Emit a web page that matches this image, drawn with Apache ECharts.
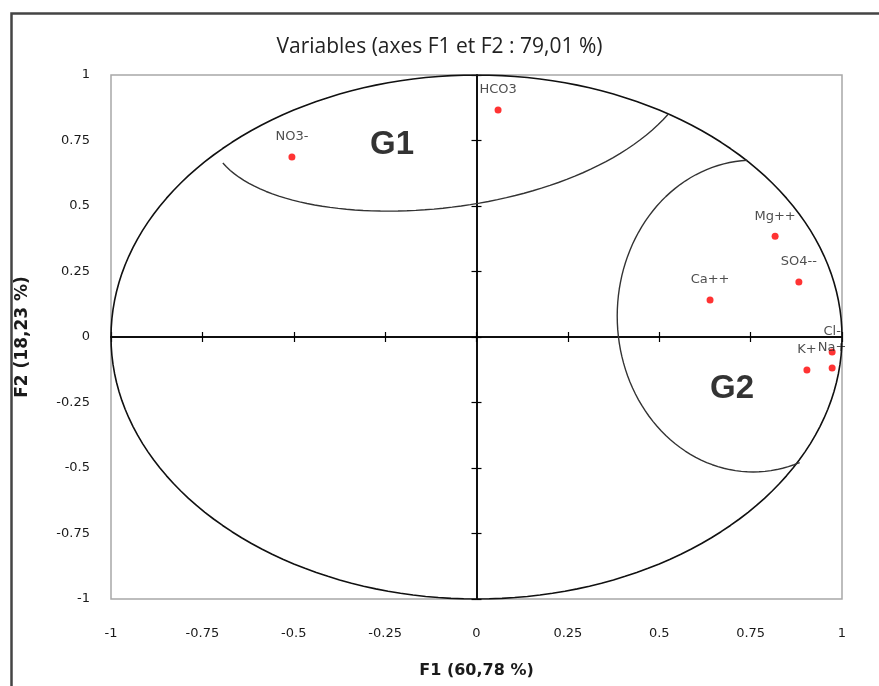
<!DOCTYPE html>
<html>
<head>
<meta charset="utf-8">
<title>Variables (axes F1 et F2)</title>
<script src="https://cdn.jsdelivr.net/npm/echarts@6/dist/echarts.min.js"></script>
<style>
html,body{margin:0;padding:0;background:#fff;}
#main{width:879px;height:686px;}
</style>
</head>
<body>
<div id="main"></div>
<script>
//variables (cercle des correlations)
var varNames = ['NO3-','HCO3','Mg++','SO4--','Ca++','Cl-','Na+','K+'];
var f1Values = [-0.505, 0.059, 0.817, 0.882, 0.639, 0.973, 0.973, 0.904];
var f2Values = [0.687, 0.866, 0.385, 0.210, 0.141, -0.057, -0.118, -0.126];
//graduations des axes
var axisTicks = [-1, -0.75, -0.5, -0.25, 0, 0.25, 0.5, 0.75, 1];
//contour du groupe G1 : courbe de Bezier (points de controle)
var g1CtrlX = [-0.694, -0.510, 0.256, 0.525];
var g1CtrlY = [0.664, 0.370, 0.427, 0.851];
//contour du groupe G2 : arc d'ellipse [centre x, centre y, rayon x, rayon y], angles en degres
var g2Ellipse = [0.757, 0.080, 0.372, 0.595];
var g2Angles = [92.5, 290];
//etiquettes des groupes
var groupNames = ['G1', 'G2'];
var groupX = [-0.231, 0.699];
var groupY = [0.733, -0.198];

var tickFont = 'DejaVu Sans';

//cercle unite
var circle = [];
for (var a = 0; a <= 360; a += 2) {
	var r = a * Math.PI / 180;
	circle.push([Math.cos(r), Math.sin(r)]);
}
//G1
var g1Curve = [];
for (var k = 0; k <= 60; k++) {
	var t = k / 60, u = 1 - t;
	var w = [u * u * u, 3 * u * u * t, 3 * u * t * t, t * t * t];
	var px = 0, py = 0;
	for (var m = 0; m < 4; m++) { px += w[m] * g1CtrlX[m]; py += w[m] * g1CtrlY[m]; }
	g1Curve.push([px, py]);
}
//G2
var g2Curve = [];
for (var d = g2Angles[0]; d <= g2Angles[1]; d += 2.5) {
	var rr = d * Math.PI / 180;
	g2Curve.push([g2Ellipse[0] + g2Ellipse[2] * Math.cos(rr), g2Ellipse[1] + g2Ellipse[3] * Math.sin(rr)]);
}
var points = [];
for (var i = 0; i < varNames.length; i++) {
	points.push({name: varNames[i], value: [f1Values[i], f2Values[i]]});
}
var groups = [];
for (var j = 0; j < groupNames.length; j++) {
	groups.push({name: groupNames[j], value: [groupX[j], groupY[j]]});
}

var amin = axisTicks[0], amax = axisTicks[axisTicks.length - 1], step = axisTicks[1] - axisTicks[0];
//axe avec etiquettes en bas / a gauche
function labelAxis(isX) {
	var ax = {
		type: 'value', min: amin, max: amax, interval: step,
		axisLine: {show: false, onZero: false},
		axisTick: {show: false},
		splitLine: {show: false},
		axisLabel: {fontFamily: tickFont, fontSize: 13, color: '#1a1a1a', margin: isX ? 28 : 21},
		nameLocation: 'middle',
		nameTextStyle: {fontFamily: 'DejaVu Sans', fontWeight: 'bold', fontSize: 16, color: '#1a1a1a'}
	};
	if (isX) { ax.position = 'bottom'; ax.name = 'F1 (60,78 %)'; ax.nameGap = 64; }
	else { ax.position = 'left'; ax.name = 'F2 (18,23 %)'; ax.nameGap = 80; ax.nameRotate = 90;
		ax.nameTextStyle.fontSize = 17; }
	return ax;
}
//axe passant par zero (traits croises)
function zeroAxis(inside) {
	return {
		type: 'value', min: amin, max: amax, interval: step,
		axisLine: {show: true, onZero: true, lineStyle: {color: '#000', width: 1.5}},
		axisTick: {show: true, inside: inside, length: 5, lineStyle: {color: '#000', width: 1.2}},
		axisLabel: {show: false},
		splitLine: {show: false}
	};
}

var chart = echarts.init(document.getElementById('main'));
chart.setOption({
	animation: false,
	backgroundColor: '#fff',
	title: {
		text: 'Variables (axes F1 et F2 : 79,01 %)',
		left: 'center', top: 32,
		textStyle: {fontFamily: 'Open Sans', fontWeight: 'normal', fontSize: 21, color: '#222'}
	},
	graphic: [{
		type: 'rect', left: 9, top: 11,
		shape: {width: 900, height: 700},
		style: {fill: 'none', stroke: '#444', lineWidth: 2.5}
	}],
	grid: {left: 111, right: 37, top: 75, bottom: 87, show: true, borderColor: '#a8a8a8', borderWidth: 1.5},
	xAxis: [labelAxis(true), zeroAxis(false), zeroAxis(true)],
	yAxis: [labelAxis(false), zeroAxis(false), zeroAxis(true)],
	series: [
		{type: 'line', data: circle, showSymbol: false, silent: true,
			lineStyle: {color: '#111', width: 1.6}},
		{type: 'line', data: g1Curve, showSymbol: false, silent: true,
			lineStyle: {color: '#333', width: 1.4}},
		{type: 'line', data: g2Curve, showSymbol: false, silent: true,
			lineStyle: {color: '#333', width: 1.4}},
		{type: 'scatter', data: points, symbolSize: 7, itemStyle: {color: '#ff0000'},
			label: {show: true, position: 'top', distance: 10, formatter: '{b}',
				fontFamily: tickFont, fontSize: 13, color: '#222'}},
		{type: 'scatter', data: groups, symbolSize: 0, silent: true,
			label: {show: true, position: 'inside', formatter: '{b}',
				fontFamily: 'Liberation Sans', fontWeight: 'bold', fontSize: 33, color: '#000'}}
	]
});
</script>
</body>
</html>
